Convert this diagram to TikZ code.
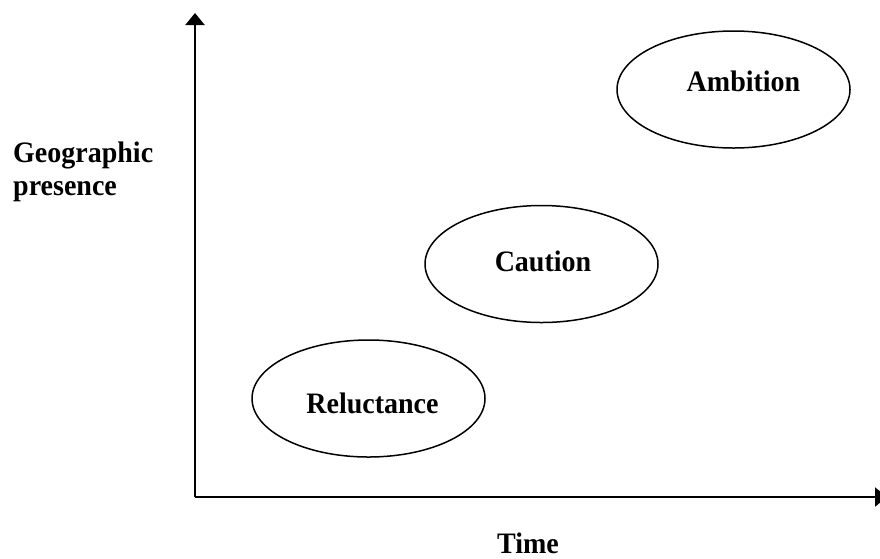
\documentclass[tikz,border=0pt]{standalone}
\usepackage{fontspec}
\setmainfont{Liberation Serif}
\usetikzlibrary{arrows.meta,shapes.geometric}
\tikzset{
  axis/.style={line width=2.2pt,-{Triangle[width=19pt,length=12pt]}},
  phase/.style={draw,ellipse,line width=1.5pt,minimum width=233pt,minimum height=117pt,inner sep=0pt},
  lbl/.style={inner sep=0pt,font=\fontsize{28}{33}\selectfont\bfseries,anchor=base,yscale=1.06},
}
\begin{document}
\begin{tikzpicture}[x=1pt,y=-1pt]
  \useasboundingbox (0,0) rectangle (880,558);
  % axes
  \coordinate (origin) at (195,497);
  \coordinate (ytip) at (195,13);
  \coordinate (xtip) at (887,497);
  \draw[axis] (origin) -- (ytip);
  \draw[axis] (origin) -- (xtip);
  % axis titles
  \node[lbl,anchor=base west] (geo) at (13,162) {Geographic};
  \node[lbl,anchor=base west] (pres) at (13,195) {presence};
  \node[lbl] (time) at (528,553) {Time};
  % phases
  \node[phase] (amb) at (733.5,89.5) {};
  \node[phase] (cau) at (541.5,264) {};
  \node[phase] (rel) at (368.5,398.5) {};
  \node[lbl] (ambt) at (743.5,91) {Ambition};
  \node[lbl] (caut) at (543,271) {Caution};
  \node[lbl] (relt) at (372.5,413) {Reluctance};
\end{tikzpicture}
\end{document}
